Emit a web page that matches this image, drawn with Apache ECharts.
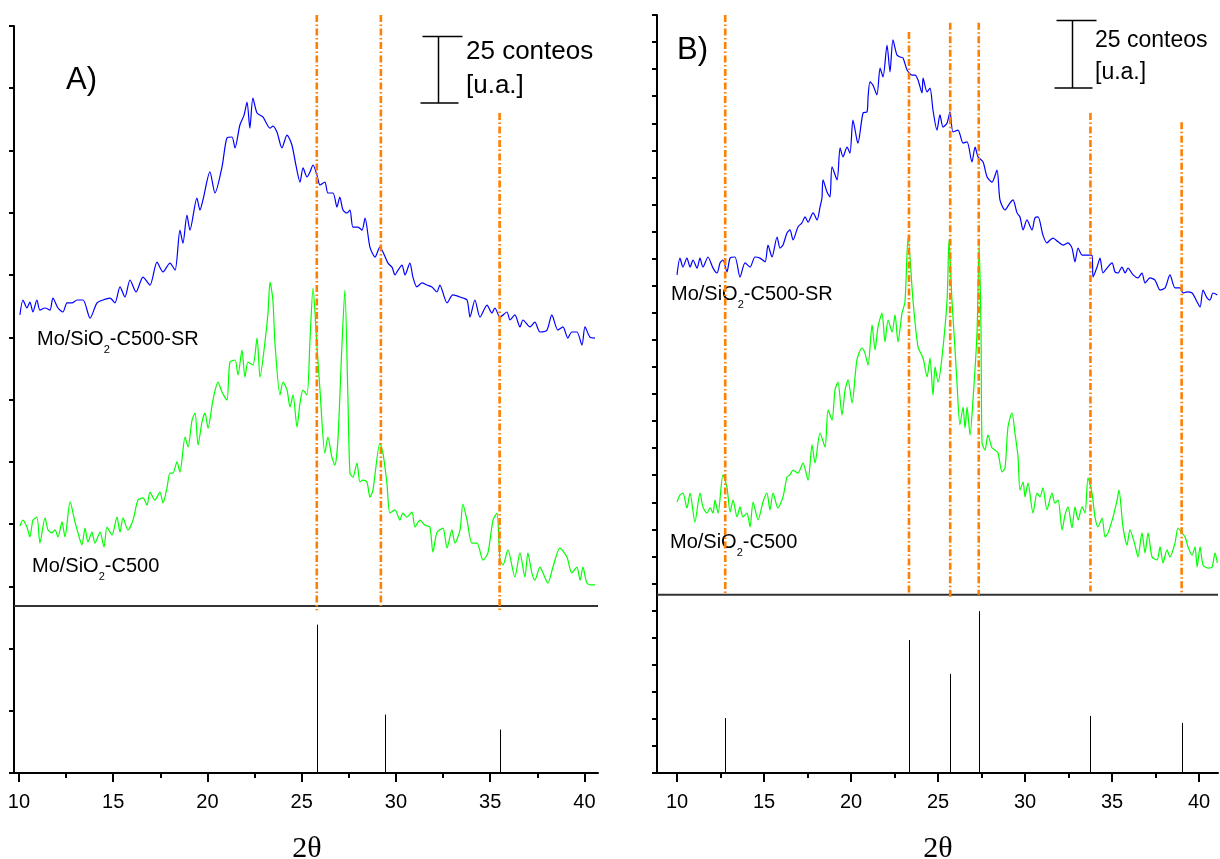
<!DOCTYPE html>
<html><head><meta charset="utf-8">
<script src="https://cdn.jsdelivr.net/npm/echarts@6/dist/echarts.min.js"></script>
<style>html,body{margin:0;padding:0;background:#fff}#c{width:1220px;height:859px}</style>
</head><body><div id="c"></div>
<script>
// ---------- data ----------
const xTicksMajor = [10, 15, 20, 25, 30, 35, 40];
const xTicksMinor = [12.5, 17.5, 22.5, 27.5, 32.5, 37.5];
const yTicksA = [0, 23.33, 46.67, 70, 93.33, 116.67, 140, 163.33, 186.67, 210, 233.33, 256.67, 280];
const yTicksB = [0,10,20,30,40,50,60,70,80,90,100,110,120,130,140,150,160,170,180,190,200,210,220,230,240,250,260,270,280];
const scaleBarCounts = 25;

const blueA = [[10.05,171.7],[10.21,177.3],[10.42,174.3],[10.58,176.5],[10.74,172.8],[10.95,177.3],[11.11,173.5],[11.38,174.3],[11.64,173.5],[11.80,178.0],[12.07,174.3],[12.33,172.8],[12.55,176.2],[12.81,176.2],[13.08,177.3],[13.40,177.3],[13.77,170.5],[14.14,176.2],[14.46,177.3],[14.83,178.0],[15.09,176.2],[15.36,182.2],[15.62,178.4],[15.89,184.8],[16.21,180.3],[16.58,185.9],[16.95,182.9],[17.32,191.5],[17.64,187.8],[18.01,191.1],[18.28,188.5],[18.54,203.5],[18.70,198.6],[18.91,209.1],[19.07,203.5],[19.44,215.5],[19.60,211.0],[19.76,214.8],[20.13,225.3],[20.40,217.4],[20.77,227.1],[21.03,238.0],[21.30,238.4],[21.46,234.3],[21.72,242.9],[21.94,246.6],[22.10,251.5],[22.25,241.7],[22.41,253.0],[22.63,247.4],[22.94,245.9],[23.32,241.7],[23.47,242.5],[23.69,240.2],[23.95,234.3],[24.22,239.1],[24.48,235.4],[24.69,227.9],[24.91,221.5],[25.07,226.8],[25.28,223.4],[25.44,225.3],[25.60,227.9],[25.81,224.1],[25.97,220.4],[26.23,221.5],[26.39,217.4],[26.66,217.4],[26.87,212.1],[27.02,215.9],[27.19,211.0],[27.40,209.9],[27.56,211.0],[27.72,204.6],[27.98,204.6],[28.20,203.5],[28.36,208.0],[28.62,197.1],[28.89,193.4],[29.15,197.1],[29.31,195.3],[29.58,191.1],[29.79,189.6],[29.95,186.7],[30.11,188.5],[30.32,190.4],[30.48,186.7],[30.74,191.1],[30.90,185.9],[31.11,182.2],[31.38,183.7],[31.64,182.9],[31.91,182.2],[32.17,180.3],[32.33,182.9],[32.71,176.2],[33.02,179.2],[33.40,178.4],[33.77,177.3],[33.93,170.9],[34.19,177.3],[34.46,170.9],[34.83,175.4],[35.09,172.4],[35.25,174.3],[35.52,170.9],[35.89,172.8],[36.05,169.8],[36.31,171.7],[36.58,167.2],[36.74,169.8],[37.11,167.2],[37.37,169.0],[37.64,165.3],[38.01,166.0],[38.27,171.7],[38.59,166.0],[38.86,167.2],[39.12,163.0],[39.33,165.3],[39.60,165.3],[39.87,160.4],[40.03,167.2],[40.29,163.4],[40.56,163.0]];

const greenA = [[10.05,92.6],[10.21,94.8],[10.42,92.2],[10.58,88.5],[10.74,94.8],[10.95,95.9],[11.11,86.2],[11.38,95.6],[11.54,91.1],[11.75,90.0],[11.91,91.1],[12.07,88.5],[12.28,94.1],[12.44,88.5],[12.71,101.6],[12.97,94.1],[13.13,90.0],[13.34,85.5],[13.50,91.8],[13.66,86.6],[13.87,90.3],[14.03,86.2],[14.30,90.3],[14.51,84.7],[14.67,92.2],[14.93,89.2],[15.20,95.9],[15.36,90.3],[15.52,95.6],[15.78,91.1],[16.05,94.8],[16.31,102.3],[16.58,103.1],[16.79,100.4],[16.95,105.3],[17.21,102.3],[17.48,105.3],[17.64,101.2],[17.85,106.8],[18.01,112.4],[18.17,112.4],[18.38,116.6],[18.54,112.8],[18.81,125.9],[18.97,122.2],[19.18,132.3],[19.34,134.9],[19.50,122.9],[19.71,131.6],[19.87,134.9],[20.03,129.3],[20.29,139.8],[20.56,146.5],[20.77,142.8],[21.03,139.8],[21.19,154.0],[21.46,154.8],[21.62,149.2],[21.83,158.5],[21.99,148.4],[22.15,154.0],[22.41,152.9],[22.63,163.0],[22.79,148.4],[23.05,161.5],[23.21,172.4],[23.32,184.0],[23.47,177.3],[23.58,161.2],[23.85,141.7],[24.01,146.5],[24.22,143.5],[24.38,137.2],[24.54,141.7],[24.75,129.7],[24.91,138.7],[25.07,143.5],[25.28,141.7],[25.44,162.3],[25.60,181.8],[25.81,159.7],[25.97,143.5],[26.23,119.9],[26.39,125.9],[26.60,118.4],[26.76,115.4],[26.92,124.8],[27.13,159.7],[27.29,181.0],[27.45,140.9],[27.56,112.4],[27.72,110.9],[27.93,116.2],[28.09,109.1],[28.25,109.8],[28.46,109.1],[28.62,103.4],[28.78,106.1],[29.15,123.7],[29.31,119.9],[29.52,108.7],[29.68,97.4],[29.95,98.6],[30.21,94.8],[30.37,97.4],[30.58,95.9],[30.85,97.8],[31.01,92.2],[31.27,94.8],[31.54,92.9],[31.80,92.2],[31.96,82.8],[32.17,90.0],[32.49,91.8],[32.71,84.3],[32.97,91.1],[33.13,86.2],[33.40,91.1],[33.55,100.8],[33.77,94.8],[34.03,86.2],[34.30,86.2],[34.62,79.8],[34.88,82.5],[35.15,94.8],[35.36,97.4],[35.52,79.8],[35.68,78.0],[35.94,83.6],[36.31,73.5],[36.58,82.5],[36.84,73.5],[37.00,82.5],[37.21,75.0],[37.37,72.3],[37.64,77.2],[37.80,75.0],[38.06,71.2],[38.33,77.2],[38.70,84.3],[39.07,81.0],[39.33,75.0],[39.60,77.2],[39.77,72.3],[39.92,77.2],[40.13,71.2],[40.40,70.5],[40.56,70.5]];

const blueB = [[10.00,184.0],[10.17,190.2],[10.34,186.9],[10.57,190.2],[10.75,186.9],[10.92,189.5],[11.15,186.5],[11.32,190.2],[11.49,186.9],[11.78,190.6],[12.07,186.5],[12.30,184.7],[12.47,188.4],[12.64,189.5],[12.87,185.1],[13.05,190.2],[13.33,190.6],[13.62,183.2],[13.91,188.4],[14.20,186.9],[14.48,190.6],[14.77,190.2],[15.06,188.8],[15.23,195.0],[15.46,190.6],[15.75,198.0],[15.92,193.9],[16.09,195.0],[16.32,199.5],[16.49,200.6],[16.67,196.9],[16.95,201.7],[17.18,203.2],[17.36,205.4],[17.53,203.5],[17.82,206.9],[18.05,204.3],[18.22,209.1],[18.33,212.4],[18.39,219.1],[18.62,214.6],[18.79,212.8],[18.91,223.9],[19.20,219.1],[19.37,230.9],[19.54,227.6],[19.77,231.2],[19.94,229.0],[20.11,241.2],[20.34,233.8],[20.40,232.7],[20.69,243.8],[20.92,244.2],[20.98,249.7],[21.09,255.3],[21.26,254.1],[21.49,250.5],[21.67,260.4],[21.84,257.1],[22.07,268.9],[22.24,259.0],[22.41,270.8],[22.64,265.2],[22.82,264.5],[22.99,264.1],[23.22,259.7],[23.51,257.8],[23.68,257.8],[23.85,256.0],[24.08,251.2],[24.14,256.7],[24.37,251.6],[24.54,253.0],[24.71,244.9],[24.94,237.5],[25.11,243.1],[25.29,238.6],[25.52,240.1],[25.69,244.2],[25.86,236.8],[26.15,237.5],[26.44,232.7],[26.67,233.1],[26.95,225.7],[27.13,231.2],[27.30,227.6],[27.59,225.7],[27.82,220.2],[28.10,218.3],[28.39,222.7],[28.56,211.7],[28.85,208.0],[29.14,210.6],[29.31,211.7],[29.54,206.9],[29.71,205.4],[29.89,200.6],[30.11,204.3],[30.40,200.6],[30.57,205.0],[30.75,205.4],[31.03,198.7],[31.26,195.8],[31.44,196.9],[31.61,197.6],[31.90,196.2],[32.18,195.0],[32.47,195.8],[32.70,193.9],[32.87,188.8],[33.05,193.9],[33.28,191.3],[33.56,191.3],[33.85,191.3],[33.91,183.2],[34.14,186.9],[34.31,190.2],[34.48,184.7],[34.71,186.5],[35.00,188.4],[35.17,185.1],[35.34,184.7],[35.57,186.9],[35.75,184.7],[35.92,186.5],[36.21,184.0],[36.49,182.9],[36.72,184.7],[36.90,181.0],[37.18,182.9],[37.47,182.1],[37.76,178.4],[38.05,179.2],[38.33,184.0],[38.62,179.2],[38.91,179.2],[39.08,177.3],[39.31,177.7],[39.60,177.3],[39.89,174.0],[40.06,172.1],[40.23,178.4],[40.46,175.5],[40.63,174.7],[40.80,177.3],[41.05,176.6]];

const greenB = [[10.00,100.1],[10.17,102.7],[10.34,103.4],[10.57,97.9],[10.75,103.4],[11.03,92.7],[11.32,103.4],[11.49,98.3],[11.72,96.0],[11.90,97.9],[12.07,96.0],[12.18,100.8],[12.36,96.0],[12.64,110.1],[12.87,105.6],[13.05,96.4],[13.22,100.8],[13.45,94.6],[13.62,98.3],[13.79,94.6],[14.02,96.0],[14.20,90.9],[14.37,100.1],[14.66,93.5],[14.94,100.1],[15.17,103.4],[15.34,97.2],[15.52,103.4],[15.80,97.9],[16.09,102.0],[16.32,109.3],[16.49,110.1],[16.67,111.9],[16.95,110.8],[17.24,114.5],[17.53,108.2],[17.76,121.2],[17.93,114.5],[18.22,125.6],[18.51,120.4],[18.68,134.1],[18.91,130.4],[19.08,141.5],[19.25,144.4],[19.48,132.2],[19.66,141.5],[19.83,145.2],[20.06,136.7],[20.34,152.6],[20.63,157.0],[20.80,155.1],[20.98,150.7],[21.21,165.5],[21.38,156.3],[21.55,164.8],[21.78,169.9],[21.95,159.2],[22.13,167.3],[22.36,162.9],[22.53,169.2],[22.70,159.2],[22.93,169.9],[23.10,174.0],[23.28,198.0],[23.56,174.7],[23.85,157.4],[24.14,153.3],[24.37,146.3],[24.54,153.3],[24.71,139.6],[24.83,150.0],[25.00,144.4],[25.23,153.7],[25.52,174.7],[25.63,196.9],[25.80,174.7],[25.98,156.3],[26.09,144.1],[26.26,128.6],[26.44,135.2],[26.55,127.4],[26.67,135.2],[26.84,124.9],[27.01,137.8],[27.24,162.5],[27.36,195.0],[27.47,163.6],[27.53,121.9],[27.70,119.3],[27.87,124.9],[28.10,120.1],[28.27,119.3],[28.45,118.2],[28.68,111.2],[28.85,112.7],[29.02,127.8],[29.25,133.0],[29.42,125.6],[29.60,116.7],[29.71,104.5],[29.89,107.5],[30.00,102.0],[30.17,107.1],[30.46,96.0],[30.69,103.4],[30.86,102.0],[31.03,105.3],[31.26,97.2],[31.55,103.4],[31.72,99.7],[31.90,100.8],[32.13,89.8],[32.30,95.3],[32.47,98.3],[32.70,90.5],[32.87,98.3],[33.05,93.5],[33.28,98.3],[33.45,96.0],[33.62,109.0],[33.85,103.4],[34.02,94.6],[34.19,90.9],[34.43,94.2],[34.60,87.2],[34.77,88.7],[35.06,94.6],[35.29,100.8],[35.40,104.5],[35.63,90.9],[35.86,84.2],[36.03,89.8],[36.32,84.2],[36.49,79.8],[36.72,88.7],[36.90,81.3],[37.07,88.7],[37.30,79.8],[37.59,78.7],[37.76,83.5],[37.93,77.6],[38.16,82.4],[38.33,79.8],[38.62,85.0],[38.79,90.5],[39.02,88.7],[39.20,87.2],[39.37,83.5],[39.60,80.5],[39.77,83.5],[39.89,76.1],[40.06,83.5],[40.23,76.8],[40.52,75.7],[40.75,76.1],[40.92,81.3],[41.05,77.6]];

// reference pattern sticks [2theta, intensity]
const sticksA = [[25.8, 55.6], [29.4, 21.9], [35.5, 16.3]];
const sticksB = [[12.77, 20.3], [23.33, 49.1], [25.7, 36.6], [27.34, 59.8], [33.76, 21.1], [39.0, 18.5]];
// marker lines [2theta, top, bottom]
const markA = [[25.8, 284.1, 61.0], [29.2, 284.1, 62.6], [35.5, 247.4, 61.0]];
const markB = [[12.77, 280, 65.8], [23.33, 273.7, 65.8], [25.7, 277.1, 64.8], [27.34, 277.1, 65.8], [33.76, 243.8, 67.0], [39.0, 240.4, 65.8]];
// baseline of upper pattern block
const sepA = 62.6, sepB = 65.8;

// ---------- layout ----------
const xRangeA = [9.735, 40.72], xRangeB = [8.85, 41.09];
const FONT = '"Liberation Sans", Arial, sans-serif';
const SERIF = '"Liberation Serif", "DejaVu Serif", serif';
const ORANGE = '#FF7F00';

function xAxes(grid, range) {
  return [
    { type:'value', gridIndex:grid, min:range[0], max:range[1], position:'bottom',
      axisLine:{show:true, onZero:false, lineStyle:{color:'#000', width:2}},
      axisTick:{show:true, customValues:xTicksMajor, length:9, lineStyle:{color:'#000', width:2}},
      axisLabel:{show:true, customValues:xTicksMajor, margin:19, fontSize:20, fontFamily:FONT, color:'#000'},
      splitLine:{show:false} },
    { type:'value', gridIndex:grid, min:range[0], max:range[1], position:'bottom',
      axisLine:{show:false, onZero:false},
      axisTick:{show:true, customValues:xTicksMinor, length:5, lineStyle:{color:'#000', width:2}},
      axisLabel:{show:false}, splitLine:{show:false} }
  ];
}
function yAxis(grid, ticks) {
  return { type:'value', gridIndex:grid, min:0, max:280,
    axisLine:{show:true, onZero:false, lineStyle:{color:'#000', width:2}},
    axisTick:{show:true, customValues:ticks, length:5, lineStyle:{color:'#000', width:2}},
    axisLabel:{show:false}, splitLine:{show:false} };
}
function stickRender(params, api) {
  const x = api.value(0);
  const a = api.coord([x, 0]), b = api.coord([x, api.value(1)]);
  const px = Math.round(a[0]) + 0.5;
  return { type:'line', shape:{x1:px, y1:a[1], x2:px, y2:b[1]}, style:{stroke:'#000', lineWidth:1} };
}
function markRender(params, api) {
  const x = api.value(0);
  const a = api.coord([x, api.value(1)]), b = api.coord([x, api.value(2)]);
  return { type:'line', shape:{x1:a[0], y1:a[1], x2:b[0], y2:b[1]},
    style:{stroke:ORANGE, lineWidth:2.6, lineDash:[7, 2.5, 1.5, 2.5]} };
}
function scaleRender(params, api) {
  const x = api.value(0);
  const a = api.coord([x, api.value(1)]), b = api.coord([x, api.value(2)]);
  const vx = Math.round(a[0]) + 0.5;
  const st = {stroke:'#000', lineWidth:1.5};
  return { type:'group', children:[
    {type:'line', shape:{x1:vx, y1:a[1], x2:vx, y2:b[1]}, style:st},
    {type:'line', shape:{x1:vx-16, y1:b[1], x2:vx+24, y2:b[1]}, style:st},
    {type:'line', shape:{x1:vx-18, y1:a[1], x2:vx+20, y2:a[1]}, style:st}
  ]};
}
function panelSeries(xi, yi, blue, green, sticks, marks, sep, range, scaleX, scaleBottom) {
  const base = {xAxisIndex:xi, yAxisIndex:yi, animation:false, silent:true};
  return [
    Object.assign({type:'line', data:blue, showSymbol:false, symbol:'none', smooth:0.25,
      lineStyle:{color:'#0000FF', width:1.2}, z:3}, base),
    Object.assign({type:'line', data:green, showSymbol:false, symbol:'none', smooth:0.25,
      lineStyle:{color:'#00FF00', width:1.2}, z:3}, base),
    Object.assign({type:'line', data:[[range[0], sep], [range[1], sep]], showSymbol:false, symbol:'none',
      lineStyle:{color:'#333', width:2}, z:2}, base),
    Object.assign({type:'custom', coordinateSystem:'cartesian2d', data:sticks, renderItem:stickRender, z:2}, base),
    Object.assign({type:'custom', coordinateSystem:'cartesian2d', data:marks, renderItem:markRender, clip:false, z:4}, base),
    Object.assign({type:'custom', coordinateSystem:'cartesian2d',
      data:[[scaleX, scaleBottom, scaleBottom + scaleBarCounts]], renderItem:scaleRender, clip:false, z:4}, base)
  ];
}

// text helpers
const meas = document.createElement('canvas').getContext('2d');
function txt(x, y, text, size, family, align) {
  return {type:'text', x:x, y:y, silent:true,
    style:{text:text, fontSize:size, fontFamily:family || FONT, fill:'#000', align:align || 'left', verticalAlign:'middle'}};
}
function subLabel(left, cy, pre, sub, post, size) {
  const subSize = 11;
  meas.font = size + 'px ' + FONT; const w1 = meas.measureText(pre).width;
  meas.font = subSize + 'px ' + FONT; const w2 = meas.measureText(sub).width;
  return [txt(left, cy, pre, size), txt(left + w1, cy + 11, sub, subSize), txt(left + w1 + w2, cy, post, size)];
}

const chart = echarts.init(document.getElementById('c'), null, {renderer:'canvas'});
const option = {
  animation:false,
  backgroundColor:'#fff',
  grid:[
    {left:14, top:26, width:584, height:747, containLabel:false, outerBoundsMode:'none'},
    {left:657, top:15, width:561, height:758, containLabel:false, outerBoundsMode:'none'}
  ],
  xAxis:[].concat(xAxes(0, xRangeA), xAxes(1, xRangeB)),
  yAxis:[yAxis(0, yTicksA), yAxis(1, yTicksB)],
  series:[].concat(
    panelSeries(0, 0, blueA, greenA, sticksA, markA, sepA, xRangeA, 32.23, 251.1),
    panelSeries(2, 1, blueB, greenB, sticksB, markB, sepB, xRangeB, 32.70, 253.0)
  ),
  graphic:[].concat(
    [txt(66, 80, 'A)', 31), txt(677, 50, 'B)', 31),
     txt(466, 52, '25 conteos', 26), txt(466, 86, '[u.a.]', 26),
     txt(1095, 41, '25 conteos', 23), txt(1095, 73, '[u.a.]', 23),
     txt(307, 849, '2θ', 30, SERIF, 'center'),
     txt(938, 849, '2θ', 30, SERIF, 'center')],
    subLabel(37, 339, 'Mo/SiO', '2', '-C500-SR', 20),
    subLabel(32, 566, 'Mo/SiO', '2', '-C500', 20),
    subLabel(671, 294, 'Mo/SiO', '2', '-C500-SR', 20),
    subLabel(670, 542, 'Mo/SiO', '2', '-C500', 20)
  )
};
chart.setOption(option);
</script>
</body></html>
